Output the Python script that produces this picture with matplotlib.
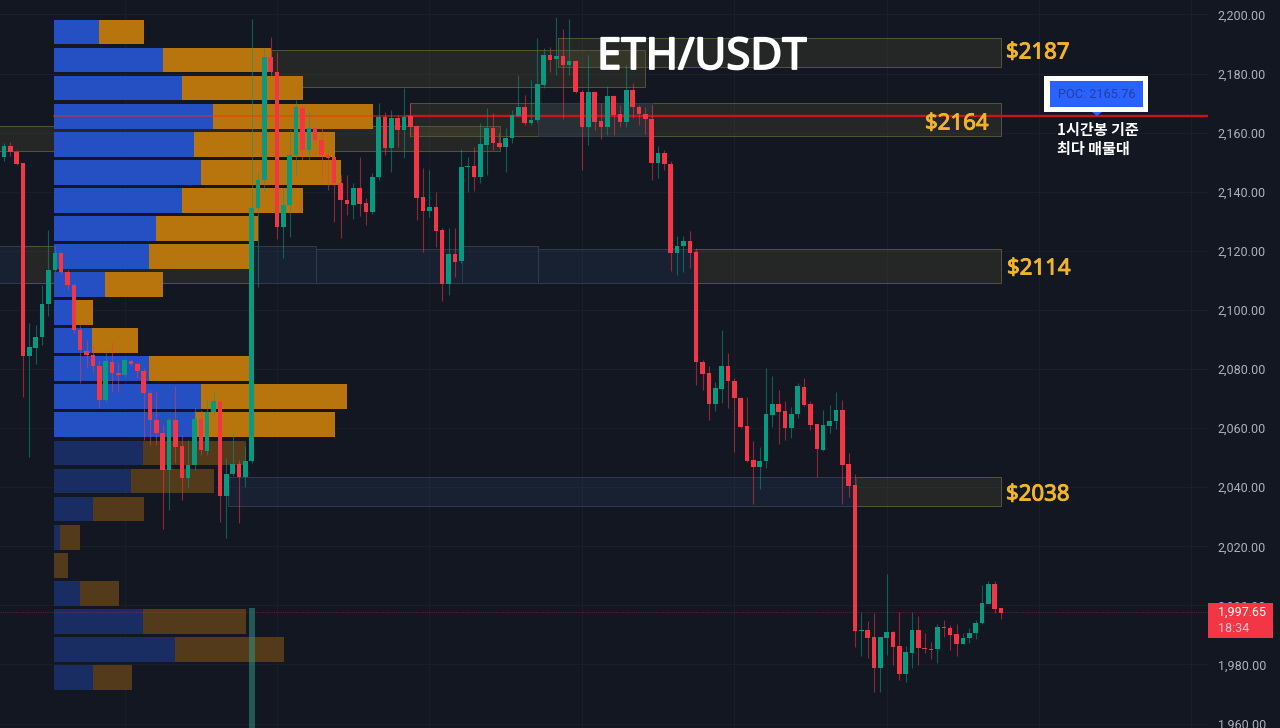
import numpy as np
import matplotlib
matplotlib.use("Agg")
import matplotlib.pyplot as plt
import matplotlib.patheffects as pe
from matplotlib.patches import Rectangle, Polygon

BG = "#131722"
GREEN = "#089981"
RED = "#f23645"

direction = ("GRRRGGGGGR" "RRRRRRGRRG" "RRRRRRGRRG" "GRGGRGGRGG"
             "GGRRGGGRGR" "RRRRRGRRGG" "RGRGRRRGRR" "GRGGRGGRRG"
             "GGRGGGRGRG" "RRGRRGRRGR" "RRRGRRGGRR" "RRGGRRRRRG"
             "GGRRGGRRRG" "GGRRRGRRGG" "RRGGRRRGRR" "RGGGGGRR")

body_high = [2155.5, 2155.5, 2153.5, 2149.7, 2087.5, 2090.9, 2102.0, 2113.5, 2119.3, 2119.3,
             2112.9, 2108.5, 2093.2, 2086.1, 2084.8, 2081.0, 2082.7, 2082.4, 2078.7, 2083.1,
             2082.7, 2081.7, 2079.4, 2071.9, 2062.8, 2058.4, 2062.8, 2062.8, 2054.0, 2047.6,
             2063.1, 2063.1, 2065.5, 2069.2, 2068.9, 2044.5, 2047.9, 2047.9, 2048.9, 2134.5,
             2144.0, 2185.6, 2185.6, 2180.5, 2135.5, 2152.4, 2168.7, 2168.4, 2161.6, 2161.6,
             2157.5, 2152.4, 2151.8, 2143.0, 2137.2, 2141.3, 2141.3, 2136.2, 2145.0, 2165.3,
             2165.3, 2165.0, 2165.0, 2165.3, 2165.6, 2162.3, 2138.2, 2134.8, 2134.8, 2127.1,
             2119.0, 2119.0, 2148.4, 2148.7, 2148.7, 2156.2, 2161.6, 2161.6, 2156.5, 2158.2,
             2166.0, 2168.7, 2168.7, 2164.3, 2176.5, 2186.3, 2186.3, 2185.9, 2185.9, 2184.3,
             2184.3, 2173.8, 2173.8, 2173.8, 2163.9, 2172.4, 2172.4, 2166.3, 2174.4, 2174.4,
             2168.7, 2166.3, 2164.6, 2153.1, 2153.1, 2149.4, 2121.6, 2123.3, 2123.3, 2119.6,
             2082.4, 2078.7, 2073.6, 2081.0, 2081.0, 2076.0, 2070.2, 2060.7, 2049.2, 2048.9,
             2064.8, 2068.2, 2068.2, 2065.8, 2064.8, 2074.3, 2073.9, 2068.2, 2061.4, 2061.1,
             2062.4, 2066.2, 2066.2, 2047.9, 2040.8, 1991.7, 1991.7, 1989.3, 1989.3, 1991.0,
             1991.0, 1986.3, 1984.3, 1991.7, 1991.7, 1985.6, 1985.3, 1992.7, 1992.7, 1992.4,
             1990.4, 1989.0, 1990.7, 1994.1, 2000.8, 2007.3, 2007.3, 1999.2]

body_low = [2151.8, 2153.5, 2149.4, 2084.4, 2084.4, 2087.1, 2090.9, 2102.0, 2113.5, 2112.9,
            2108.5, 2093.2, 2086.5, 2084.8, 2081.0, 2069.5, 2069.5, 2078.7, 2078.0, 2078.0,
            2081.7, 2079.4, 2071.9, 2062.8, 2058.4, 2045.8, 2045.8, 2053.6, 2043.1, 2043.1,
            2047.6, 2052.6, 2052.3, 2065.5, 2037.1, 2037.1, 2044.5, 2043.5, 2043.5, 2048.9,
            2134.5, 2144.0, 2180.5, 2128.1, 2128.1, 2135.5, 2152.4, 2154.1, 2154.1, 2157.5,
            2152.4, 2151.4, 2143.0, 2137.2, 2135.9, 2135.5, 2135.9, 2133.2, 2133.2, 2145.0,
            2154.8, 2154.8, 2160.9, 2160.9, 2161.9, 2137.9, 2133.5, 2133.5, 2126.7, 2108.8,
            2108.8, 2116.2, 2116.6, 2148.4, 2145.0, 2145.0, 2155.8, 2156.5, 2155.2, 2155.2,
            2158.2, 2165.6, 2163.3, 2163.3, 2164.3, 2176.1, 2184.6, 2184.9, 2182.9, 2182.9,
            2173.8, 2161.9, 2161.9, 2163.6, 2161.9, 2161.9, 2166.0, 2163.6, 2163.6, 2168.7,
            2166.3, 2164.6, 2149.7, 2149.7, 2149.4, 2119.3, 2119.3, 2121.6, 2119.3, 2082.4,
            2078.3, 2068.2, 2068.2, 2073.3, 2076.0, 2070.2, 2060.4, 2048.9, 2046.9, 2046.9,
            2048.9, 2064.5, 2065.5, 2060.1, 2060.1, 2064.8, 2067.8, 2061.1, 2053.0, 2052.6,
            2060.7, 2062.4, 2047.6, 2040.4, 1991.4, 1991.4, 1989.0, 1978.8, 1978.8, 1989.0,
            1985.9, 1976.8, 1976.8, 1983.9, 1985.6, 1985.3, 1985.0, 1985.3, 1992.4, 1990.0,
            1987.0, 1987.0, 1989.0, 1990.7, 1994.1, 2000.5, 1998.8, 1997.5]

wick_high = [2156.5, 2156.8, 2154.1, 2149.7, 2095.6, 2094.9, 2108.5, 2127.1, 2121.6, 2119.6,
             2113.5, 2109.1, 2094.9, 2089.8, 2088.2, 2083.1, 2086.5, 2089.2, 2082.4, 2084.1,
             2083.1, 2082.4, 2080.4, 2072.9, 2072.2, 2061.1, 2063.8, 2074.3, 2057.7, 2056.0,
             2066.8, 2066.2, 2069.5, 2072.2, 2069.5, 2049.9, 2058.4, 2049.2, 2054.0, 2198.5,
             2146.7, 2188.7, 2192.4, 2187.3, 2141.3, 2160.9, 2171.1, 2169.4, 2167.0, 2162.3,
             2161.6, 2154.1, 2152.4, 2145.7, 2145.7, 2143.0, 2151.8, 2137.9, 2146.4, 2170.0,
             2167.0, 2167.7, 2166.0, 2175.1, 2170.0, 2162.6, 2148.0, 2147.4, 2139.9, 2127.7,
             2127.7, 2127.7, 2154.5, 2151.8, 2155.2, 2163.3, 2168.4, 2166.7, 2159.9, 2161.6,
             2167.7, 2179.5, 2172.8, 2177.8, 2192.0, 2188.7, 2189.0, 2199.1, 2195.1, 2198.5,
             2184.6, 2174.4, 2186.3, 2174.1, 2170.0, 2175.8, 2172.8, 2169.4, 2182.9, 2176.8,
             2169.4, 2168.7, 2169.4, 2155.5, 2154.1, 2150.4, 2125.0, 2125.0, 2126.7, 2121.0,
             2083.1, 2081.0, 2075.6, 2093.2, 2085.4, 2077.0, 2070.6, 2070.6, 2055.7, 2053.6,
             2080.4, 2077.7, 2072.9, 2069.2, 2067.2, 2075.3, 2077.0, 2069.2, 2061.4, 2066.2,
             2067.9, 2072.2, 2069.5, 2051.6, 2044.5, 1997.8, 1994.8, 1997.5, 1989.3, 2010.7,
             1991.4, 1997.8, 1986.3, 1997.8, 1996.4, 1990.7, 1987.6, 1993.7, 1995.1, 1993.4,
             1993.7, 1990.7, 1992.4, 1995.1, 2006.9, 2008.3, 2008.3, 1999.2]

wick_low = [2150.4, 2152.1, 2149.1, 2070.6, 2050.2, 2081.7, 2088.2, 2098.0, 2112.9, 2112.2,
            2106.8, 2092.2, 2075.3, 2080.7, 2079.0, 2066.8, 2068.9, 2072.2, 2072.2, 2077.0,
            2081.0, 2077.0, 2056.0, 2054.3, 2054.3, 2025.9, 2032.3, 2048.2, 2035.7, 2039.8,
            2045.8, 2050.9, 2050.9, 2064.5, 2028.2, 2022.8, 2043.8, 2027.9, 2040.1, 2048.2,
            2107.8, 2140.3, 2180.2, 2124.0, 2117.6, 2124.7, 2145.7, 2150.8, 2150.8, 2155.8,
            2144.0, 2140.6, 2129.8, 2124.4, 2132.1, 2130.8, 2131.8, 2128.8, 2132.5, 2144.0,
            2152.4, 2146.7, 2155.2, 2151.4, 2158.5, 2130.5, 2119.6, 2131.5, 2121.3, 2103.0,
            2105.1, 2111.2, 2115.9, 2139.9, 2140.3, 2143.0, 2145.7, 2154.1, 2154.8, 2146.7,
            2156.5, 2165.3, 2162.6, 2162.6, 2163.6, 2175.1, 2180.5, 2179.5, 2164.6, 2179.5,
            2173.4, 2147.4, 2155.8, 2160.9, 2157.9, 2159.2, 2159.2, 2161.9, 2161.9, 2165.0,
            2162.6, 2159.6, 2144.0, 2144.7, 2147.4, 2113.2, 2111.8, 2112.9, 2114.2, 2074.6,
            2072.9, 2062.8, 2065.8, 2068.5, 2066.8, 2052.0, 2060.1, 2048.6, 2034.3, 2039.4,
            2046.5, 2060.4, 2054.6, 2056.0, 2056.7, 2063.4, 2067.5, 2059.4, 2043.5, 2052.3,
            2058.4, 2059.7, 2034.3, 2036.7, 1986.0, 1982.9, 1982.2, 1970.7, 1970.7, 1983.2,
            1979.9, 1974.8, 1974.1, 1978.8, 1979.9, 1983.9, 1981.9, 1980.5, 1989.3, 1984.9,
            1982.9, 1987.0, 1987.3, 1988.7, 1993.7, 2000.5, 1997.5, 1995.4]

# volume profile, top row first
profile_price = [2194.1, 2184.6, 2175.1, 2165.6, 2156.1, 2146.6, 2137.1, 2127.6, 2118.1, 2108.6,
                 2099.1, 2089.6, 2080.1, 2070.6, 2061.1, 2051.6, 2042.1, 2032.6, 2023.1, 2013.6,
                 2004.1, 1994.6, 1985.1, 1975.6]
profile_buy = [45, 109, 128, 159, 140, 147, 128, 102, 95, 51, 22, 38, 95, 147, 141, 89, 77, 39, 6, 0, 26, 89, 121, 39]
profile_sell = [45, 108, 121, 160, 141, 140, 121, 102, 101, 58, 17, 46, 101, 146, 140, 103, 83, 51, 20, 14, 39, 103, 109, 39]

# (left bar, right bar, top price, bottom price)
olive_zones = [(87.2, 157.0, 2192.0, 2182.2), (42.0, 101.0, 2188.0, 2175.5),
               (63.9, 157.0, 2169.9, 2158.9), (-2.0, 78.1, 2162.1, 2153.8),
               (3.1, 38.7, 2121.6, 2109.1), (108.8, 157.0, 2120.6, 2109.1),
               (134.2, 157.0, 2043.5, 2033.7)]
blue_zones = [(-2.0, 3.1, 2121.6, 2109.1), (38.7, 49.1, 2121.6, 2109.1),
              (49.1, 72.1, 2120.6, 2109.1), (72.1, 84.1, 2121.6, 2109.1),
              (84.1, 108.8, 2120.6, 2109.1), (84.1, 102.0, 2169.9, 2158.9),
              (35.3, 134.2, 2043.5, 2033.7)]

poc_price = 2165.6
last_price = 1997.65
price_ticks = np.arange(1960, 2201, 20)
time_ticks = np.arange(19, 190, 24)

plt.rcParams["font.family"] = ["Roboto", "DejaVu Sans"]

fig = plt.figure(figsize=(12.8, 7.28), dpi=100, facecolor=BG)
ax = fig.add_axes([0, 0, 1208 / 1280, 1], facecolor=BG)
ax.set_xlim(-0.63, 189.6)
ax.set_ylim(1958.5, 2204.9)

for side in ax.spines:
    ax.spines[side].set_visible(False)
ax.yaxis.tick_right()
ax.set_yticks(price_ticks)
ax.set_yticklabels([f"{p:,.2f}" for p in price_ticks], fontsize=9, color="#aeb1ba")
ax.set_xticks(time_ticks)
ax.set_xticklabels([])
ax.tick_params(length=0)
ax.tick_params(axis="y", pad=7)
ax.grid(True, color="#1a1e29", lw=0.8)
ax.set_axisbelow(True)

# zones
for left, right, top, bottom in olive_zones:
    ax.add_patch(Rectangle((left, bottom), right - left, top - bottom, facecolor="#c8b450", alpha=0.1, zorder=1))
    ax.add_patch(Rectangle((left, bottom), right - left, top - bottom, fill=False, edgecolor="#565437", lw=0.7, zorder=1.1))
for left, right, top, bottom in blue_zones:
    ax.add_patch(Rectangle((left, bottom), right - left, top - bottom, facecolor="#3f6fa8", alpha=0.12, zorder=1.2))
    ax.add_patch(Rectangle((left, bottom), right - left, top - bottom, fill=False, edgecolor="#303c4c", lw=0.7, zorder=1.3))

# volume profile (1 volume unit = 1 pixel)
profile_left = 7.87
scale = 1 / 6.35
buy = np.array(profile_buy) * scale
sell = np.array(profile_sell) * scale
bright = np.array(profile_price) > 2055
ax.barh(profile_price, buy, left=profile_left, height=8.4,
        color=["#2450c4" if b else "#1a2d62" for b in bright], zorder=2)
ax.barh(profile_price, sell, left=profile_left + buy, height=8.4,
        color=["#b9750d" if b else "#533a1a" for b in bright], zorder=2)

# POC and last price lines
ax.plot([7.87, 63.5], [poc_price, poc_price], color="#ff2a10", alpha=0.45, lw=1.4, zorder=2.5)
ax.plot([63.5, 189.6], [poc_price, poc_price], color="#c9141c", lw=1.7, zorder=2.5)
ax.axhline(last_price, color="#f23645", alpha=0.3, lw=0.8, ls=(0, (1, 1)), zorder=2.5)

# candles
idx = np.arange(len(direction))
colors = [GREEN if d == "G" else RED for d in direction]
ax.vlines(idx, wick_low, wick_high, colors=colors, lw=0.8, alpha=0.55, zorder=3)
ax.bar(idx, np.array(body_high) - np.array(body_low), bottom=body_low, width=0.72, color=colors, lw=0, zorder=3.2)
# leftover band under the big green candle
ax.bar(39, 1999.2 - 1958.5, bottom=1958.5, width=0.95, color="#2f9c88", alpha=0.5, lw=0, zorder=3.1)

# labels are laid out in pixels on top of the chart
top = fig.add_axes([0, 0, 1, 1])
top.set_xlim(0, 1280)
top.set_ylim(728, 0)
top.axis("off")

top.text(597, 58, "ETH/USDT", color="white", fontsize=31.5, family="Noto Sans", va="center", ha="left",
         path_effects=[pe.withStroke(linewidth=1.3, foreground="white")])
for x, y, label in [(1006, 53, "$2187"), (925, 124, "$2164"), (1007, 269, "$2114"), (1006, 495, "$2038")]:
    top.text(x, y, label, color="#f0b429", fontsize=16, family="Noto Sans", va="center", ha="left",
             path_effects=[pe.withStroke(linewidth=0.7, foreground="#f0b429")])

top.add_patch(Rectangle((1044, 76), 104, 36, facecolor="white", lw=0))
top.add_patch(Rectangle((1050, 81), 93, 26, facecolor="#2a62ff", lw=0))
top.add_patch(Polygon([(1092, 112), (1102, 112), (1097, 116)], facecolor="#2a62ff", lw=0))
top.text(1097, 95, "POC: 2165.76", color="#24409a", fontsize=9.2, va="center", ha="center")
top.text(1057, 130, "1시간봉 기준", color="white", fontsize=10.9, fontweight="bold",
         family=["Noto Sans CJK KR", "DejaVu Sans"], va="center", ha="left")
top.text(1057, 149, "최다 매물대", color="white", fontsize=10.9, fontweight="bold",
         family=["Noto Sans CJK KR", "DejaVu Sans"], va="center", ha="left")

top.add_patch(Rectangle((1208, 603), 65, 35, facecolor=RED, lw=0))
top.text(1218, 612.5, "1,997.65", color="white", fontsize=9, va="center", ha="left")
top.text(1218, 628, "18:34", color="#ffc4ca", fontsize=9, va="center", ha="left")

fig.savefig("out.png", dpi=100, facecolor=BG)
